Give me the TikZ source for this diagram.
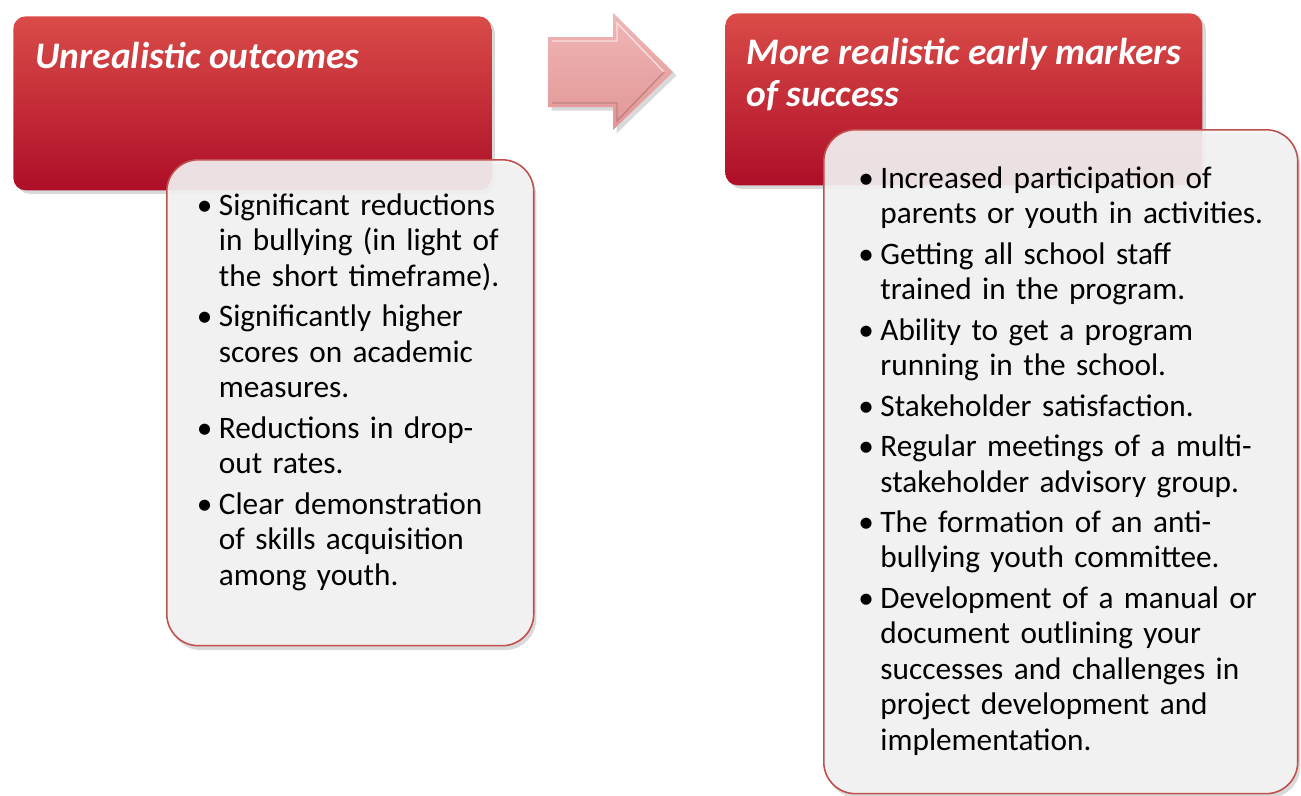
\documentclass[tikz,border=0pt]{standalone}
\usepackage{fontspec}
\setmainfont{Carlito}
\usetikzlibrary{shadows,positioning}

\definecolor{redtop}{RGB}{218,76,72}
\definecolor{redbot}{RGB}{174,14,40}
\definecolor{boxedge}{RGB}{192,80,77}
\definecolor{boxfill}{RGB}{244,244,244}
\definecolor{arrowtop}{RGB}{240,182,182}
\definecolor{arrowbot}{RGB}{226,150,150}

\newlength{\bulletsep}
\setlength{\bulletsep}{12.6pt}
\newcommand{\bpoint}[1]{\par\hangindent=\bulletsep\hangafter=1\noindent\makebox[\bulletsep][l]{\textbullet}#1\par}

\tikzset{
  header/.style={rounded corners=7pt, top color=redtop, bottom color=redbot,
    anchor=north west, inner sep=0pt,
    drop shadow={shadow xshift=2pt, shadow yshift=-2pt, opacity=.3}},
  headtext/.style={anchor=base west, inner sep=0pt, text=white, align=left,
    font=\fontsize{21.3}{23.5}\selectfont\bfseries\itshape},
  listbox/.style={rounded corners=18pt, draw=boxedge, line width=.9pt,
    fill=boxfill, fill opacity=.9, text opacity=1, anchor=north west,
    align=left, inner ysep=0pt,
    font=\fontsize{17.8}{20.2}\selectfont\setlength{\parskip}{2.8pt},
    drop shadow={shadow xshift=1.5pt, shadow yshift=-2.5pt, opacity=.3}},
}

\begin{document}
\begin{tikzpicture}[x=0.02cm, y=-0.02cm]
\useasboundingbox (0,0) rectangle (1301,795);

% left column
\node[header, minimum width=9.56cm, minimum height=3.48cm] (hdrleft) at (13,16) {};
\node[headtext] (ttlleft) at ([shift={(22,52)}]hdrleft.north west) {Unrealistic outcomes};

\node[listbox, minimum width=7.34cm, minimum height=9.72cm,
  text width=6.14cm, inner xsep=0.6cm] (lstleft) at (166,159) {%
\vspace*{-0.8cm}
\bpoint{Significant reductions\newline in bullying (in light of\newline the short timeframe).}
\bpoint{Significantly higher\newline scores on academic\newline measures.}
\bpoint{Reductions in drop-\newline out rates.}
\bpoint{Clear demonstration\newline of skills acquisition\newline among youth.}};

% block arrow
\shade[top color=arrowtop, bottom color=arrowbot,
  drop shadow={shadow xshift=2pt, shadow yshift=-2pt, opacity=.3}]
(548,37) -- (613,37) -- (613,13) -- (673,72) -- (613,130) -- (613,107) -- (548,107) -- cycle;
\draw[white, opacity=.6, line width=.8pt]
(552,41) -- (617,41) -- (617,23) -- (664,72);
\draw[arrowbot!60!black, opacity=.4, line width=.8pt]
(664,72) -- (617,121) -- (617,103) -- (552,103);

% right column
\node[header, minimum width=9.54cm, minimum height=3.44cm] (hdrright) at (725,13) {};
\node[headtext] (ttlright) at ([shift={(21,93)}]hdrright.north west) {More realistic early markers\\of success};

\node[listbox, minimum width=9.48cm, minimum height=13.28cm,
  text width=8.1cm, inner xsep=0.68cm] (lstright) at (823,129) {%
\vspace*{-0.4cm}
\bpoint{Increased participation of\newline parents or youth in activities.}
\bpoint{Getting all school staff\newline trained in the program.}
\bpoint{Ability to get a program\newline running in the school.}
\bpoint{Stakeholder satisfaction.}
\bpoint{Regular meetings of a multi-\newline stakeholder advisory group.}
\bpoint{The formation of an anti-\newline bullying youth committee.}
\bpoint{Development of a manual or\newline document outlining your\newline successes and challenges in\newline project development and\newline implementation.}};

\end{tikzpicture}
\end{document}
